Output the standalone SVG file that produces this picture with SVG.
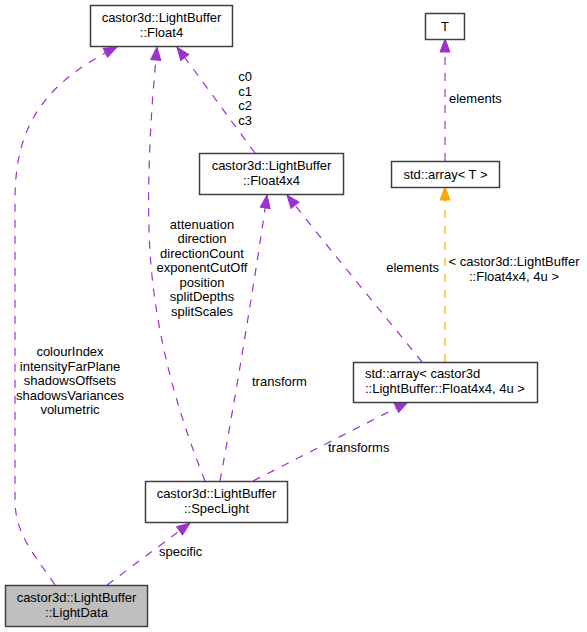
<svg xmlns="http://www.w3.org/2000/svg" width="587" height="632" viewBox="0 0 587 632">
<style>
text{font-family:"Liberation Sans",Arial,sans-serif;font-size:13px;fill:#000}
.c{text-anchor:middle}
.box{fill:#fff;stroke:#404040;stroke-width:1.5}
.cur{fill:#bfbfbf;stroke:#404040;stroke-width:1.5}
.e{fill:none;stroke:#9a32cd;stroke-width:1.2;stroke-dasharray:8,8;marker-end:url(#ap)}
.o{fill:none;stroke:#ffa500;stroke-width:1.2;stroke-dasharray:8,8;marker-end:url(#ao)}
</style>
<defs>
<marker id="ap" markerUnits="userSpaceOnUse" markerWidth="15" markerHeight="12" refX="13" refY="5" orient="auto" overflow="visible">
<path d="M0,0 L13,5 L0,10 z" fill="#9a32cd" stroke="#9a32cd" stroke-width="1" stroke-dasharray="none"/>
</marker>
<marker id="ao" markerUnits="userSpaceOnUse" markerWidth="15" markerHeight="12" refX="13" refY="5" orient="auto" overflow="visible">
<path d="M0,0 L13,5 L0,10 z" fill="#ffa500" stroke="#ffa500" stroke-width="1" stroke-dasharray="none"/>
</marker>
</defs>
<rect width="587" height="632" fill="#fff"/>
<g id="edges">
<path class="e" d="M55,585 C35,555 15,535 15,500 L15,200 C15,130 40,85 117,47"/>
<path class="e" d="M205,481 C185,430 152,340 149,230 C147,160 153,90 157,47"/>
<path class="e" d="M220,481 C235,400 258,260 267,195"/>
<path class="e" d="M422,362 C380,310 330,250 287,195"/>
<path class="e" d="M445,161 L445,39"/>
<path class="o" d="M445,362 L445,187"/>
<path class="e" d="M253,481 L408,402"/>
<path class="e" d="M107,585 L190,523"/>
<path class="e" d="M255,153 L177,47"/>
<text x="70" y="356" class="c">colourIndex</text>
<text x="70" y="370.5" class="c">intensityFarPlane</text>
<text x="70" y="385" class="c">shadowsOffsets</text>
<text x="70" y="399.5" class="c">shadowsVariances</text>
<text x="70" y="414" class="c">volumetric</text>
<text x="202" y="228.5" class="c">attenuation</text>
<text x="202" y="243" class="c">direction</text>
<text x="202" y="257.5" class="c">directionCount</text>
<text x="202" y="272" class="c">exponentCutOff</text>
<text x="202" y="286.5" class="c">position</text>
<text x="202" y="301" class="c">splitDepths</text>
<text x="202" y="315.5" class="c">splitScales</text>
<text x="245" y="81" class="c">c0</text>
<text x="245" y="95.5" class="c">c1</text>
<text x="245" y="110" class="c">c2</text>
<text x="245" y="124.5" class="c">c3</text>
<text x="252" y="386">transform</text>
<text x="449" y="103">elements</text>
<text x="439" y="272" text-anchor="end">elements</text>
<text x="514" y="266" class="c">&lt; castor3d::LightBuffer</text>
<text x="514" y="281" class="c">::Float4x4, 4u &gt;</text>
<text x="328" y="452">transforms</text>
<text x="159" y="556">specific</text>
</g>
<g id="node-float4">
<rect class="box" x="90.5" y="5.5" width="142" height="41"/>
<text x="161.5" y="21.5" class="c">castor3d::LightBuffer</text>
<text x="161.5" y="36.5" class="c">::Float4</text>
</g>
<g id="node-float4x4">
<rect class="box" x="199.5" y="153.5" width="144" height="41"/>
<text x="271.5" y="169.5" class="c">castor3d::LightBuffer</text>
<text x="271.5" y="184.5" class="c">::Float4x4</text>
</g>
<g id="node-T">
<rect class="box" x="425.5" y="13.5" width="39" height="26"/>
<text x="445" y="31" class="c">T</text>
</g>
<g id="node-arrayT">
<rect class="box" x="391.5" y="161.5" width="108" height="26"/>
<text x="445.5" y="179" class="c">std::array&lt; T &gt;</text>
</g>
<g id="node-arrayF">
<rect class="box" x="353.5" y="362.5" width="184" height="40"/>
<text x="365" y="378">std::array&lt; castor3d</text>
<text x="365" y="393">::LightBuffer::Float4x4, 4u &gt;</text>
</g>
<g id="node-speclight">
<rect class="box" x="145.5" y="481.5" width="142" height="41"/>
<text x="216.5" y="497.5" class="c">castor3d::LightBuffer</text>
<text x="216.5" y="512.5" class="c">::SpecLight</text>
</g>
<g id="node-lightdata">
<rect class="cur" x="5.5" y="585.5" width="142" height="41"/>
<text x="76.5" y="601.5" class="c">castor3d::LightBuffer</text>
<text x="76.5" y="616.5" class="c">::LightData</text>
</g>
</svg>
